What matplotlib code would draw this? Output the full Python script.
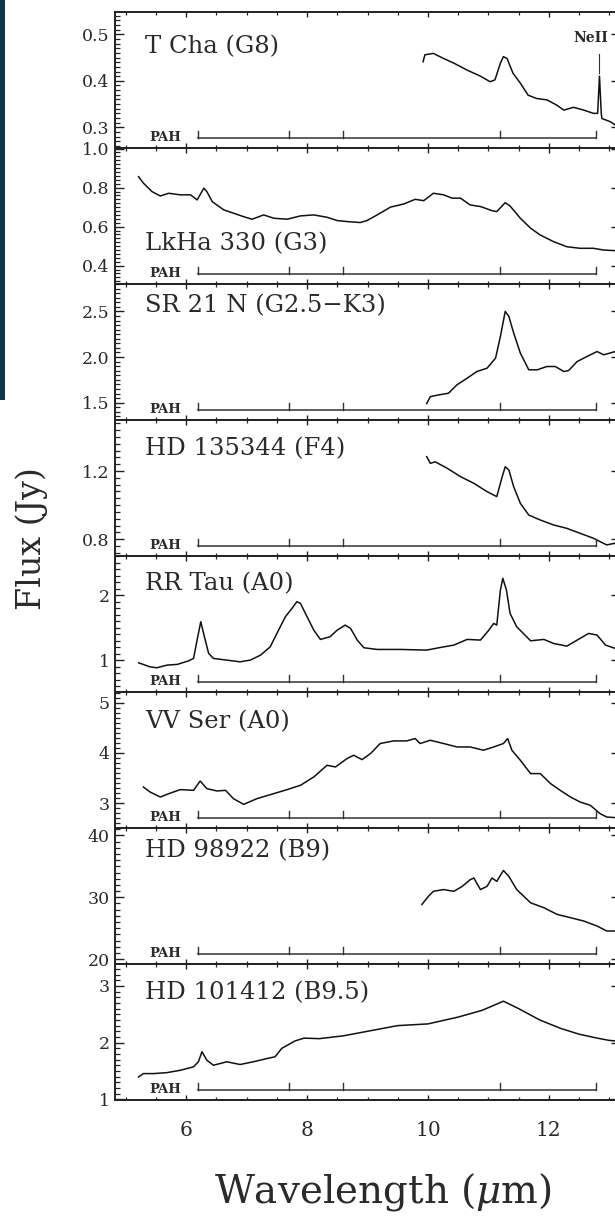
import matplotlib
matplotlib.use('Agg')
import matplotlib.pyplot as plt
from matplotlib.ticker import MultipleLocator, FormatStrFormatter
import matplotlib.transforms as mtransforms
from matplotlib.patches import Rectangle

plt.rcParams['font.family'] = ['DejaVu Serif']
plt.rcParams['mathtext.fontset'] = 'dejavuserif'

# ---------------- data ----------------
tcha_wl = [9.92, 9.95, 10.09, 10.26, 10.43, 10.65, 10.87, 11.03, 11.11, 11.20, 11.25, 11.31, 11.41,
           11.53, 11.66, 11.80, 11.97, 12.13, 12.25, 12.41, 12.58, 12.74, 12.81, 12.84, 12.87, 12.88, 13.02, 13.10, 13.2]
tcha_fx = [0.441, 0.456, 0.459, 0.448, 0.438, 0.423, 0.410, 0.398, 0.402, 0.438, 0.452, 0.448, 0.416,
           0.395, 0.369, 0.362, 0.359, 0.348, 0.337, 0.343, 0.337, 0.330, 0.330, 0.410, 0.330, 0.319, 0.312, 0.305, 0.300]

lkha_wl = [5.21, 5.29, 5.43, 5.57, 5.71, 5.90, 6.07, 6.18, 6.29, 6.34, 6.43, 6.62, 6.78, 6.95, 7.09, 7.28,
           7.45, 7.67, 7.89, 8.11, 8.33, 8.50, 8.66, 8.88, 8.99, 9.16, 9.38, 9.60, 9.79, 9.93, 10.09, 10.26,
           10.40, 10.54, 10.70, 10.87, 11.06, 11.14, 11.28, 11.36, 11.53, 11.70, 11.86, 12.08, 12.30, 12.52,
           12.74, 12.91, 13.10, 13.2]
lkha_fx = [0.856, 0.823, 0.780, 0.757, 0.771, 0.763, 0.763, 0.737, 0.797, 0.780, 0.728, 0.686, 0.669, 0.651,
           0.638, 0.660, 0.643, 0.638, 0.655, 0.660, 0.648, 0.631, 0.626, 0.621, 0.631, 0.660, 0.700, 0.716,
           0.740, 0.733, 0.771, 0.763, 0.746, 0.746, 0.711, 0.703, 0.682, 0.677, 0.723, 0.706, 0.643, 0.592,
           0.557, 0.523, 0.497, 0.489, 0.489, 0.480, 0.477, 0.475]

sr21_wl = [9.98, 10.04, 10.18, 10.34, 10.48, 10.65, 10.81, 10.98, 11.12, 11.20, 11.28, 11.34, 11.42, 11.53,
           11.67, 11.81, 11.97, 12.11, 12.25, 12.33, 12.47, 12.63, 12.80, 12.91, 13.10, 13.2]
sr21_fx = [1.49, 1.566, 1.585, 1.603, 1.695, 1.768, 1.841, 1.878, 1.988, 2.225, 2.50, 2.445, 2.263, 2.043,
           1.86, 1.86, 1.896, 1.896, 1.841, 1.852, 1.95, 2.005, 2.06, 2.024, 2.06, 2.07]

hd135_wl = [9.98, 10.04, 10.12, 10.32, 10.54, 10.76, 10.98, 11.14, 11.23, 11.28, 11.34, 11.42, 11.53, 11.67,
            11.86, 12.08, 12.30, 12.52, 12.74, 12.96, 13.10, 13.2]
hd135_fx = [1.284, 1.245, 1.254, 1.216, 1.167, 1.128, 1.079, 1.05, 1.167, 1.225, 1.206, 1.108, 1.011, 0.942,
            0.913, 0.884, 0.864, 0.835, 0.806, 0.767, 0.777, 0.77]

rrtau_wl = [5.21, 5.40, 5.51, 5.68, 5.85, 6.04, 6.12, 6.19, 6.24, 6.30, 6.37, 6.45, 6.67, 6.89, 7.06, 7.23,
            7.39, 7.50, 7.64, 7.75, 7.83, 7.89, 8.00, 8.11, 8.22, 8.38, 8.50, 8.63, 8.72, 8.83, 8.94, 9.16,
            9.54, 9.98, 10.21, 10.43, 10.65, 10.87, 11.01, 11.09, 11.14, 11.20, 11.24, 11.30, 11.36, 11.47,
            11.58, 11.70, 11.92, 12.08, 12.30, 12.52, 12.66, 12.80, 12.94, 13.10, 13.2]
rrtau_fx = [0.959, 0.897, 0.882, 0.923, 0.934, 0.989, 1.026, 1.359, 1.59, 1.359, 1.103, 1.026, 1.0, 0.974,
            1.0, 1.077, 1.205, 1.41, 1.666, 1.795, 1.897, 1.872, 1.666, 1.462, 1.318, 1.359, 1.462, 1.538,
            1.487, 1.308, 1.19, 1.164, 1.164, 1.154, 1.195, 1.231, 1.318, 1.308, 1.462, 1.565, 1.538, 2.077,
            2.257, 2.077, 1.718, 1.513, 1.41, 1.297, 1.318, 1.256, 1.215, 1.334, 1.41, 1.385, 1.231, 1.18, 1.17]

vvser_wl = [5.29, 5.40, 5.57, 5.74, 5.90, 6.12, 6.23, 6.34, 6.51, 6.65, 6.78, 6.95, 7.17, 7.45, 7.67, 7.89,
            8.11, 8.33, 8.47, 8.66, 8.77, 8.91, 9.05, 9.21, 9.43, 9.65, 9.79, 9.87, 10.04, 10.26, 10.48,
            10.70, 10.92, 11.09, 11.25, 11.32, 11.39, 11.53, 11.70, 11.86, 12.03, 12.19, 12.36, 12.52, 12.69,
            12.85, 12.96, 13.10, 13.2]
vvser_fx = [3.324, 3.225, 3.125, 3.205, 3.272, 3.258, 3.443, 3.292, 3.245, 3.258, 3.093, 2.98, 3.093, 3.193,
            3.272, 3.358, 3.523, 3.755, 3.722, 3.888, 3.954, 3.868, 3.988, 4.187, 4.239, 4.239, 4.286, 4.187,
            4.252, 4.187, 4.119, 4.119, 4.054, 4.119, 4.187, 4.286, 4.054, 3.855, 3.59, 3.59, 3.392, 3.258,
            3.125, 3.026, 2.96, 2.795, 2.728, 2.716, 2.70]

hd989_wl = [9.90, 10.01, 10.09, 10.26, 10.43, 10.57, 10.70, 10.76, 10.87, 10.98, 11.06, 11.14, 11.25, 11.34,
            11.47, 11.70, 11.92, 12.14, 12.36, 12.58, 12.80, 12.96, 13.10, 13.2]
hd989_fx = [28.83, 30.16, 30.96, 31.24, 30.96, 31.77, 32.84, 33.11, 31.24, 31.77, 33.11, 32.57, 34.33, 33.37,
            31.24, 29.1, 28.3, 27.22, 26.69, 26.15, 25.35, 24.54, 24.54, 24.4]

hd101_wl = [5.21, 5.29, 5.46, 5.68, 5.90, 6.12, 6.20, 6.26, 6.34, 6.45, 6.67, 6.89, 7.11, 7.34, 7.47, 7.58,
            7.80, 7.95, 8.20, 8.60, 9.00, 9.50, 10.00, 10.50, 10.90, 11.25, 11.50, 11.85, 12.20, 12.50,
            12.80, 13.00, 13.2]
hd101_fx = [1.396, 1.455, 1.455, 1.472, 1.513, 1.574, 1.663, 1.84, 1.691, 1.602, 1.663, 1.615, 1.663, 1.721,
            1.751, 1.899, 2.03, 2.08, 2.07, 2.12, 2.20, 2.30, 2.33, 2.45, 2.57, 2.73, 2.60, 2.40, 2.25, 2.15,
            2.08, 2.04, 2.02]

star_names = ['T Cha (G8)', 'LkHa 330 (G3)', 'SR 21 N (G2.5\u2212K3)', 'HD 135344 (F4)',
              'RR Tau (A0)', 'VV Ser (A0)', 'HD 98922 (B9)', 'HD 101412 (B9.5)']
spectra = [(tcha_wl, tcha_fx), (lkha_wl, lkha_fx), (sr21_wl, sr21_fx), (hd135_wl, hd135_fx),
           (rrtau_wl, rrtau_fx), (vvser_wl, vvser_fx), (hd989_wl, hd989_fx), (hd101_wl, hd101_fx)]

pah_bands = [6.2, 7.7, 8.6, 11.2, 12.78]
neii_wl = 12.84
neii_marker = [0.458, 0.416]

# ---------------- layout ----------------
W, H = 615, 1217
fig = plt.figure(figsize=(W / 100, H / 100), dpi=100)
fig.patch.set_facecolor('white')

# dark strip at the left edge of the original slide
fig.patches.append(Rectangle((0, 1 - 400 / H), 5 / W, 400 / H, transform=fig.transFigure,
                             facecolor='#0f3747', edgecolor='none', zorder=0))

left_px, right_px = 115, 620
top_px, panel_px = 12, 136

ylims = [(0.2555, 0.548), (0.306, 1.003), (1.31, 2.80), (0.702, 1.499),
         (0.51, 2.60), (2.51, 5.21), (19.2, 41.2), (0.99, 3.385)]
ymaj = [0.1, 0.2, 0.5, 0.4, 1, 1, 10, 1]
ymin = [0.01, 0.02, 0.05, 0.04, 0.1, 0.1, 1, 0.1]
yfmt = ['%.1f', '%.1f', '%.1f', '%.1f', '%d', '%d', '%d', '%d']
label_base = [41, None, 28, 35, 34, 36, 29, 35]  # px below panel top

txtc = '#2a2a2a'
for i in range(8):
    y0 = top_px + panel_px * (i + 1)
    ax = fig.add_axes([left_px / W, 1 - y0 / H, (right_px - left_px) / W, panel_px / H])
    wl, fx = spectra[i]
    ax.plot(wl, fx, color='#111111', lw=1.1)
    ax.set_xlim(4.82, 13.18)
    ax.set_ylim(*ylims[i])
    ax.xaxis.set_major_locator(MultipleLocator(2))
    ax.xaxis.set_minor_locator(MultipleLocator(0.5))
    ax.yaxis.set_major_locator(MultipleLocator(ymaj[i]))
    ax.yaxis.set_minor_locator(MultipleLocator(ymin[i]))
    ax.yaxis.set_major_formatter(FormatStrFormatter(yfmt[i]))
    ax.tick_params(which='both', direction='in', top=True, right=True, colors='#222222',
                   labelcolor=txtc)
    ax.tick_params(axis='y', which='major', length=6.5, width=1.0, labelsize=12.5, pad=4)
    ax.tick_params(axis='y', which='minor', length=3.6, width=0.9)
    ax.tick_params(axis='x', which='major', length=3.6, width=1.0, labelsize=14.5, pad=15)
    ax.tick_params(axis='x', which='minor', length=2.2, width=0.9)
    if i < 7:
        ax.tick_params(axis='x', labelbottom=False)
    for s in ax.spines.values():
        s.set_linewidth(1.4)
        s.set_color('#222222')

    trans = mtransforms.blended_transform_factory(ax.transData, ax.transAxes)
    by, th = 10 / panel_px, 7 / panel_px
    ax.plot([pah_bands[0], pah_bands[-1]], [by, by], transform=trans, color='#333333', lw=1.1)
    for b in pah_bands:
        ax.plot([b, b], [by, by + th], transform=trans, color='#333333', lw=1.0)
    ax.text(5.39, 7 / panel_px, 'PAH', transform=trans, fontsize=9.5, fontweight='bold',
            color=txtc, va='baseline', ha='left')

    if label_base[i] is None:
        ty = 34 / panel_px
    else:
        ty = 1 - label_base[i] / panel_px
    ax.text(5.32, ty, star_names[i], transform=trans, fontsize=17.5, color=txtc,
            va='baseline', ha='left')

    if i == 0:
        ax.plot([neii_wl, neii_wl], neii_marker, color='#333333', lw=0.8)
        ax.text(12.70, 0.492, 'NeII', fontsize=10, fontweight='bold', color=txtc,
                ha='center', va='center')

fig.text(32 / W, 1 - 539 / H, 'Flux (Jy)', rotation=90, fontsize=24, color=txtc,
         ha='center', va='center')
fig.text(383 / W, 1 - 1192 / H, r'Wavelength ($\mu$m)', fontsize=28, color=txtc,
         ha='center', va='center')

fig.savefig('out.png', dpi=100)
